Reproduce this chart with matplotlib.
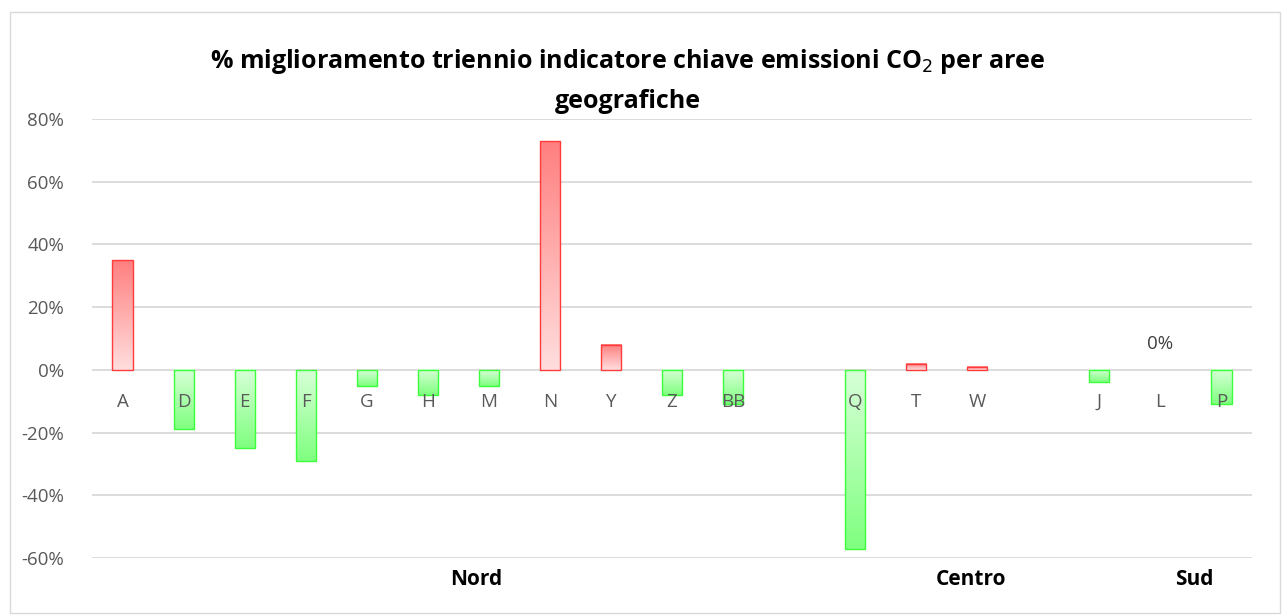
import matplotlib.pyplot as plt
import numpy as np
from matplotlib.colors import LinearSegmentedColormap

# data (percent)
labels = ["A", "D", "E", "F", "G", "H", "M", "N", "Y", "Z", "BB", "",
          "Q", "T", "W", "", "J", "L", "P"]
values = [35, -19, -25, -29, -5, -8, -5, 73, 8, -8, -11, None,
          -57, 2, 1, None, -4, 0, -11]
groups = ["Nord", "Centro", "Sud"]
group_pos = [5.8, 13.9, 17.55]
yticks = [-60, -40, -20, 0, 20, 40, 60, 80]

plt.rcParams['font.family'] = ['Open Sans', 'DejaVu Sans']

fig = plt.figure(figsize=(12.82, 6.15), dpi=100)
ax = fig.add_axes([92 / 1282, (615 - 558) / 615, 1160 / 1282, 439 / 615])

# outer chart border
fig.patches.append(plt.Rectangle((10 / 1282, 2 / 615), 1270 / 1282, 601 / 615,
                                 transform=fig.transFigure, fill=False,
                                 edgecolor="#d9d9d9", lw=1))

red = LinearSegmentedColormap.from_list("r", ["#ffdede", "#ff7f7f"])
green = LinearSegmentedColormap.from_list("g", ["#d8ffd8", "#7fff7f"])
grad = np.linspace(0, 1, 256).reshape(-1, 1)

w = 0.33
x = np.arange(len(labels))
for i, v in enumerate(values):
    if v is None or v == 0:
        continue
    x0, x1 = i - w / 2, i + w / 2
    if v > 0:
        ax.imshow(grad, cmap=red, origin="lower", extent=[x0, x1, 0, v],
                  aspect="auto", zorder=3)
        ax.add_patch(plt.Rectangle((x0, 0), w, v, fill=False,
                                   edgecolor="#ff3b3b", lw=1, zorder=4))
    else:
        ax.imshow(grad, cmap=green, origin="upper", extent=[x0, x1, v, 0],
                  aspect="auto", zorder=3)
        ax.add_patch(plt.Rectangle((x0, v), w, -v, fill=False,
                                   edgecolor="#3bff3b", lw=1, zorder=4))

# zero label for L
ax.text(17, 8.2, "0%", ha="center", va="center", fontsize=13.5, color="#404040")

ax.set_xlim(-0.5, len(labels) - 0.5)
ax.set_ylim(-60, 80)
ax.set_yticks(yticks)
ax.set_yticklabels([f"{t}%" for t in yticks], fontsize=13.5, color="#595959")
ax.tick_params(axis="y", length=0, pad=20)
ax.set_xticks([])
ax.grid(axis="y", color="#d9d9d9", lw=1.3, zorder=0)
ax.set_axisbelow(True)
for s in ax.spines.values():
    s.set_visible(False)

for i, lab in enumerate(labels):
    ax.text(i, -10.2, lab, ha="center", va="center", fontsize=13.5,
            color="#595959", zorder=5)

for g, p in zip(groups, group_pos):
    ax.text(p, -66.8, g, ha="center", va="center", fontsize=15,
            fontweight="bold", color="black")

fig.text(628 / 1282, 1 - 62 / 615,
         "% miglioramento triennio indicatore chiave emissioni CO$_2$ per aree",
         ha="center", va="center", fontsize=18, fontweight="bold")
fig.text(628 / 1282, 1 - 101 / 615, "geografiche",
         ha="center", va="center", fontsize=18, fontweight="bold")

fig.savefig("out.png", dpi=100)
